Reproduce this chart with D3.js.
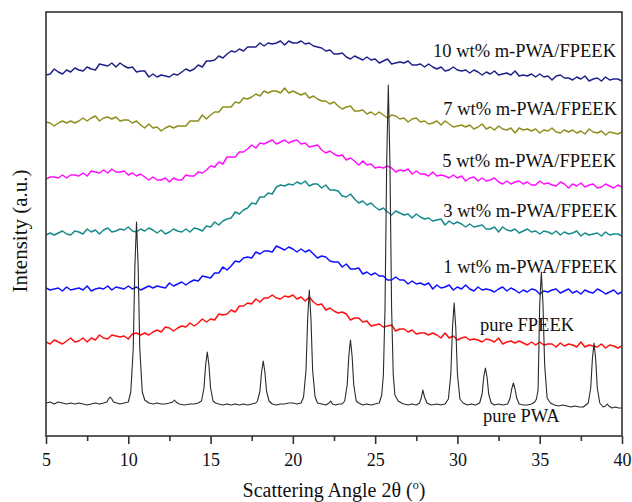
<!DOCTYPE html>
<html>
<head>
<meta charset="utf-8">
<script src="https://cdn.jsdelivr.net/npm/d3@7"></script>
<style>
  html, body { margin: 0; padding: 0; background: #fff; }
  svg { display: block; }
  text { font-family: "Liberation Serif", "Times New Roman", serif; fill: #111; }
</style>
</head>
<body>
<svg id="chart" width="632" height="502"></svg>
<script>
// XRD patterns, 2θ from 5° to 40°; diffuse scans sampled every 0.25°
const angleStart = 5, angleStep = 0.25, angleCount = 141;

const seriesNames = [
  "10 wt% m-PWA/FPEEK",
  "7 wt% m-PWA/FPEEK",
  "5 wt% m-PWA/FPEEK",
  "3 wt% m-PWA/FPEEK",
  "1 wt% m-PWA/FPEEK",
  "pure FPEEK",
  "pure PWA"
];

const seriesColors = ["#20208a", "#8e8e1c", "#ff10ff", "#178b8b", "#1010ff", "#ff1010", "#2a2a2a"];

// Stacked intensities (a.u., vertical offsets included)
const wt10 = [
  370,371,376,373,371,375,373,377,375,374,378,376,375,381,380,379,382,378,382,379,
  377,378,373,374,374,368,371,368,370,369,368,371,370,373,376,374,376,380,378,384,
  384,385,389,387,391,394,393,396,394,398,398,398,402,399,402,401,402,404,400,404,
  402,402,404,401,402,399,398,397,394,395,391,391,392,388,386,389,387,385,388,385,
  386,382,384,386,381,382,383,382,384,380,380,381,378,381,378,376,378,374,375,378,
  375,374,375,372,375,373,370,373,371,374,370,371,372,370,374,369,370,369,371,368,
  371,368,369,365,369,370,367,367,365,368,366,369,364,366,367,364,368,365,366,366,364
];
const wt7 = [
  323,322,319,322,324,322,324,322,324,327,324,327,329,324,327,328,326,328,324,325,
  325,322,324,320,317,321,317,318,314,317,319,317,319,319,319,324,324,324,330,326,
  330,333,333,338,338,338,343,342,347,346,348,351,349,354,352,354,354,352,357,352,
  354,352,350,352,347,349,346,344,344,341,343,339,336,338,339,334,334,335,331,333,
  330,333,330,327,330,329,326,327,323,326,327,323,324,321,322,324,320,324,321,318,
  319,320,318,320,316,318,321,316,318,315,319,316,315,317,312,317,315,316,314,316,
  312,315,314,317,313,312,315,313,315,312,314,311,316,313,312,314,310,313,312,311,313
];
const wt5 = [
  266,268,268,267,270,267,270,270,269,272,269,274,273,272,275,272,276,273,273,274,
  270,272,269,271,268,265,268,265,265,267,263,267,265,265,270,269,269,273,272,275,
  279,278,283,281,288,288,288,293,293,296,300,297,302,301,303,305,301,303,305,302,
  304,305,301,302,298,299,300,295,292,294,291,289,290,285,287,284,280,284,280,281,
  277,278,277,279,277,273,275,274,276,271,274,271,271,269,273,269,270,269,267,270,
  267,269,264,267,268,264,267,264,265,267,263,261,264,261,263,264,261,263,260,260,
  264,261,262,260,259,263,261,257,261,259,262,258,260,261,257,258,261,259,257,260,258
];
const wt3 = [
  210,212,210,212,214,211,210,214,213,211,216,213,215,211,215,217,213,214,216,215,
  218,214,213,216,214,217,215,212,215,211,213,216,214,213,216,213,217,216,214,219,
  218,223,220,224,226,227,233,231,235,237,242,241,248,248,252,251,258,260,259,261,
  260,263,261,264,259,261,261,257,260,255,255,254,249,248,251,246,242,244,240,242,
  238,235,237,233,230,234,232,230,231,227,231,228,226,227,224,225,226,220,224,221,
  223,221,218,221,218,219,220,216,216,218,213,218,215,214,216,212,214,216,213,214,
  211,214,213,211,214,210,213,211,212,214,209,212,210,211,212,209,213,210,211,211,209
];
const wt1 = [
  157,155,156,157,154,158,155,156,157,155,159,154,156,157,156,159,155,158,157,156,
  159,156,158,155,157,159,157,159,158,157,162,159,161,163,160,163,165,164,169,168,
  167,172,172,178,175,179,184,183,187,188,187,193,191,194,194,193,199,197,195,198,
  196,193,196,193,195,191,187,189,188,184,183,183,178,181,176,176,177,171,173,170,
  172,169,169,165,165,168,165,165,161,164,161,162,160,162,156,160,157,158,160,155,
  158,156,160,156,154,158,155,156,155,153,156,158,154,157,155,152,155,153,156,155,
  151,154,153,155,156,152,154,156,152,154,151,155,153,152,156,154,151,153,155,151,153
];
const pureFPEEK = [
  103,101,105,103,101,104,107,103,104,107,103,107,105,110,107,106,110,109,108,109,
  106,111,112,110,112,110,113,115,113,118,117,114,117,119,118,122,119,122,126,123,
  126,125,131,130,131,135,133,139,139,142,141,146,143,147,147,150,147,146,149,148,
  150,146,148,144,148,143,140,141,135,137,134,132,133,131,125,127,127,123,124,119,
  120,121,118,119,120,114,116,116,113,115,111,112,112,110,112,110,107,112,107,109,
  105,107,108,105,106,105,103,106,105,103,107,101,103,104,102,104,102,100,103,100,
  103,100,101,101,98,102,99,101,100,98,103,98,100,99,98,101,97,100,99,97,99
];

// Crystalline PWA pattern: angle / intensity pairs
const pwaAngle = [
  5.0,5.25,5.5,5.75,6.0,6.25,6.5,6.75,7.0,7.25,7.5,7.75,8.0,8.25,8.5,8.7,8.8,8.9,9.0,9.1,9.3,9.5,9.75,10.0,
  10.15,10.3,10.4,10.5,10.6,10.7,10.85,
  11.0,11.25,11.5,11.75,12.0,12.25,12.5,12.7,12.8,12.9,13.1,13.4,13.75,14.0,14.25,
  14.45,14.6,14.7,14.8,14.9,15.0,15.15,
  15.3,15.5,15.75,16.0,16.25,16.5,16.75,17.0,17.25,17.5,17.75,
  17.85,18.0,18.1,18.2,18.3,18.4,18.55,
  18.75,19.0,19.25,19.5,19.75,20.0,20.25,20.5,
  20.65,20.8,20.9,21.0,21.1,21.2,21.35,
  21.5,21.75,22.0,22.2,22.3,22.4,22.6,22.8,23.0,
  23.15,23.3,23.4,23.5,23.6,23.7,23.85,
  24.0,24.25,24.5,24.75,25.0,25.25,
  25.4,25.5,25.6,25.7,25.8,25.9,26.0,26.1,26.2,
  26.4,26.6,26.75,27.0,27.25,27.5,27.7,
  27.8,27.9,28.0,28.15,
  28.4,28.75,29.0,29.25,
  29.45,29.6,29.7,29.8,29.9,30.0,30.15,
  30.35,30.6,30.85,31.1,
  31.35,31.5,31.6,31.7,31.8,31.9,32.05,
  32.25,32.5,32.75,
  33.05,33.2,33.3,33.4,33.5,33.6,33.75,
  34.0,34.25,34.5,34.7,
  34.8,34.9,35.0,35.1,35.2,35.3,35.45,
  35.65,35.9,36.15,36.4,36.65,36.9,37.15,37.4,37.65,
  37.95,38.1,38.2,38.3,38.4,38.5,38.65,
  38.85,39.0,39.1,39.2,39.4,39.6,39.8,40.0
];
const pwaIntensity = [
  42,43,41,43,42,41,42,41,42,41,40,41,42,41,42,43,46,48,46,43,42,41,42,43,
  53,96,178,223,178,96,53,
  45,42,41,42,41,41,42,43,45,43,41,40,41,41,42,
  44,57,80,93,80,57,44,
  42,41,40,41,40,41,40,41,40,41,42,
  44,54,73,84,73,54,44,
  41,40,41,41,42,42,41,42,
  48,75,126,155,126,75,48,
  42,41,40,42,44,41,40,41,41,
  44,60,89,105,89,60,44,
  42,40,41,40,41,42,
  50,70,137,280,360,280,137,70,50,
  44,42,41,40,41,40,42,
  47,55,48,42,
  40,41,40,41,
  46,71,117,142,117,71,46,
  42,40,41,40,
  42,51,68,77,68,51,42,
  40,41,40,
  41,47,56,62,56,47,41,
  40,40,41,43,
  46,55,140,173,140,80,47,
  42,40,39,40,39,38,39,38,38,
  42,57,86,102,86,57,42,
  38,39,41,39,37,38,37,37
];

const xTicks = [5, 10, 15, 20, 25, 30, 35, 40];
const xMinorTicks = [7.5, 12.5, 17.5, 22.5, 27.5, 32.5, 37.5];
const xTitle = "Scattering Angle 2θ (";
const yTitle = "Intensity (a.u.)";

// ---- layout ----
const svg = d3.select("#chart");
const plot = { left: 46, right: 622, top: 12, bottom: 436 };

const x = d3.scaleLinear().domain([5, 40]).range([plot.left, plot.right]);
const y = d3.scaleLinear().domain([9, 433]).range([plot.bottom, plot.top]);

svg.append("rect").attr("width", 632).attr("height", 502).attr("fill", "#fff");

svg.append("defs").append("clipPath").attr("id", "plotClip")
  .append("rect")
  .attr("x", plot.left).attr("y", plot.top)
  .attr("width", plot.right - plot.left).attr("height", plot.bottom - plot.top);

const angleGrid = d3.range(angleCount).map(i => angleStart + i * angleStep);
const diffuse = [wt10, wt7, wt5, wt3, wt1, pureFPEEK];

const line = d3.line().x(d => x(d[0])).y(d => y(d[1]));

const curves = svg.append("g").attr("clip-path", "url(#plotClip)");

diffuse.forEach((vals, k) => {
  curves.append("path")
    .datum(vals.map((v, i) => [angleGrid[i], v]))
    .attr("fill", "none")
    .attr("stroke", seriesColors[k])
    .attr("stroke-width", 1.5)
    .attr("stroke-linejoin", "round")
    .attr("d", line);
});

curves.append("path")
  .datum(pwaAngle.map((a, i) => [a, pwaIntensity[i]]))
  .attr("fill", "none")
  .attr("stroke", seriesColors[6])
  .attr("stroke-width", 1.1)
  .attr("stroke-linejoin", "round")
  .attr("d", line);

// frame
svg.append("rect")
  .attr("x", plot.left).attr("y", plot.top)
  .attr("width", plot.right - plot.left).attr("height", plot.bottom - plot.top)
  .attr("fill", "none").attr("stroke", "#333").attr("stroke-width", 1.6);

// bottom axis, major + minor ticks pointing outward
const axisG = svg.append("g").attr("transform", `translate(0,${plot.bottom})`);
axisG.call(d3.axisBottom(x).tickValues(xTicks).tickSize(8).tickFormat(d3.format("d")));
axisG.select(".domain").remove();
axisG.selectAll(".tick line").attr("stroke", "#333").attr("stroke-width", 1.6);
axisG.selectAll(".tick text")
  .attr("y", 30).attr("dy", 0)
  .style("font-family", '"Liberation Serif", "Times New Roman", serif')
  .style("font-size", "18px").attr("fill", "#111");

const minorG = svg.append("g").attr("transform", `translate(0,${plot.bottom})`);
minorG.call(d3.axisBottom(x).tickValues(xMinorTicks).tickSize(5).tickFormat(""));
minorG.select(".domain").remove();
minorG.selectAll(".tick line").attr("stroke", "#333").attr("stroke-width", 1.6);

// axis titles
const xt = svg.append("text")
  .attr("x", (plot.left + plot.right) / 2).attr("y", 497)
  .attr("text-anchor", "middle")
  .style("font-size", "20px")
  .text(xTitle);
xt.append("tspan").attr("dy", -8).style("font-size", "12px").text("o");
xt.append("tspan").attr("dy", 8).text(")");

svg.append("text")
  .attr("transform", "translate(27,231) rotate(-90)")
  .attr("text-anchor", "middle")
  .style("font-size", "21px")
  .text(yTitle);

// curve labels
const labelAnchor = [
  { x: 616, y: 57, anchor: "end" },
  { x: 617, y: 115, anchor: "end" },
  { x: 616, y: 167, anchor: "end" },
  { x: 617, y: 217, anchor: "end" },
  { x: 617, y: 273, anchor: "end" },
  { x: 480, y: 331, anchor: "start" },
  { x: 483, y: 422, anchor: "start" }
];
seriesNames.forEach((name, k) => {
  svg.append("text")
    .attr("x", labelAnchor[k].x).attr("y", labelAnchor[k].y)
    .attr("text-anchor", labelAnchor[k].anchor)
    .style("font-size", "18.5px")
    .text(name);
});
</script>
</body>
</html>
